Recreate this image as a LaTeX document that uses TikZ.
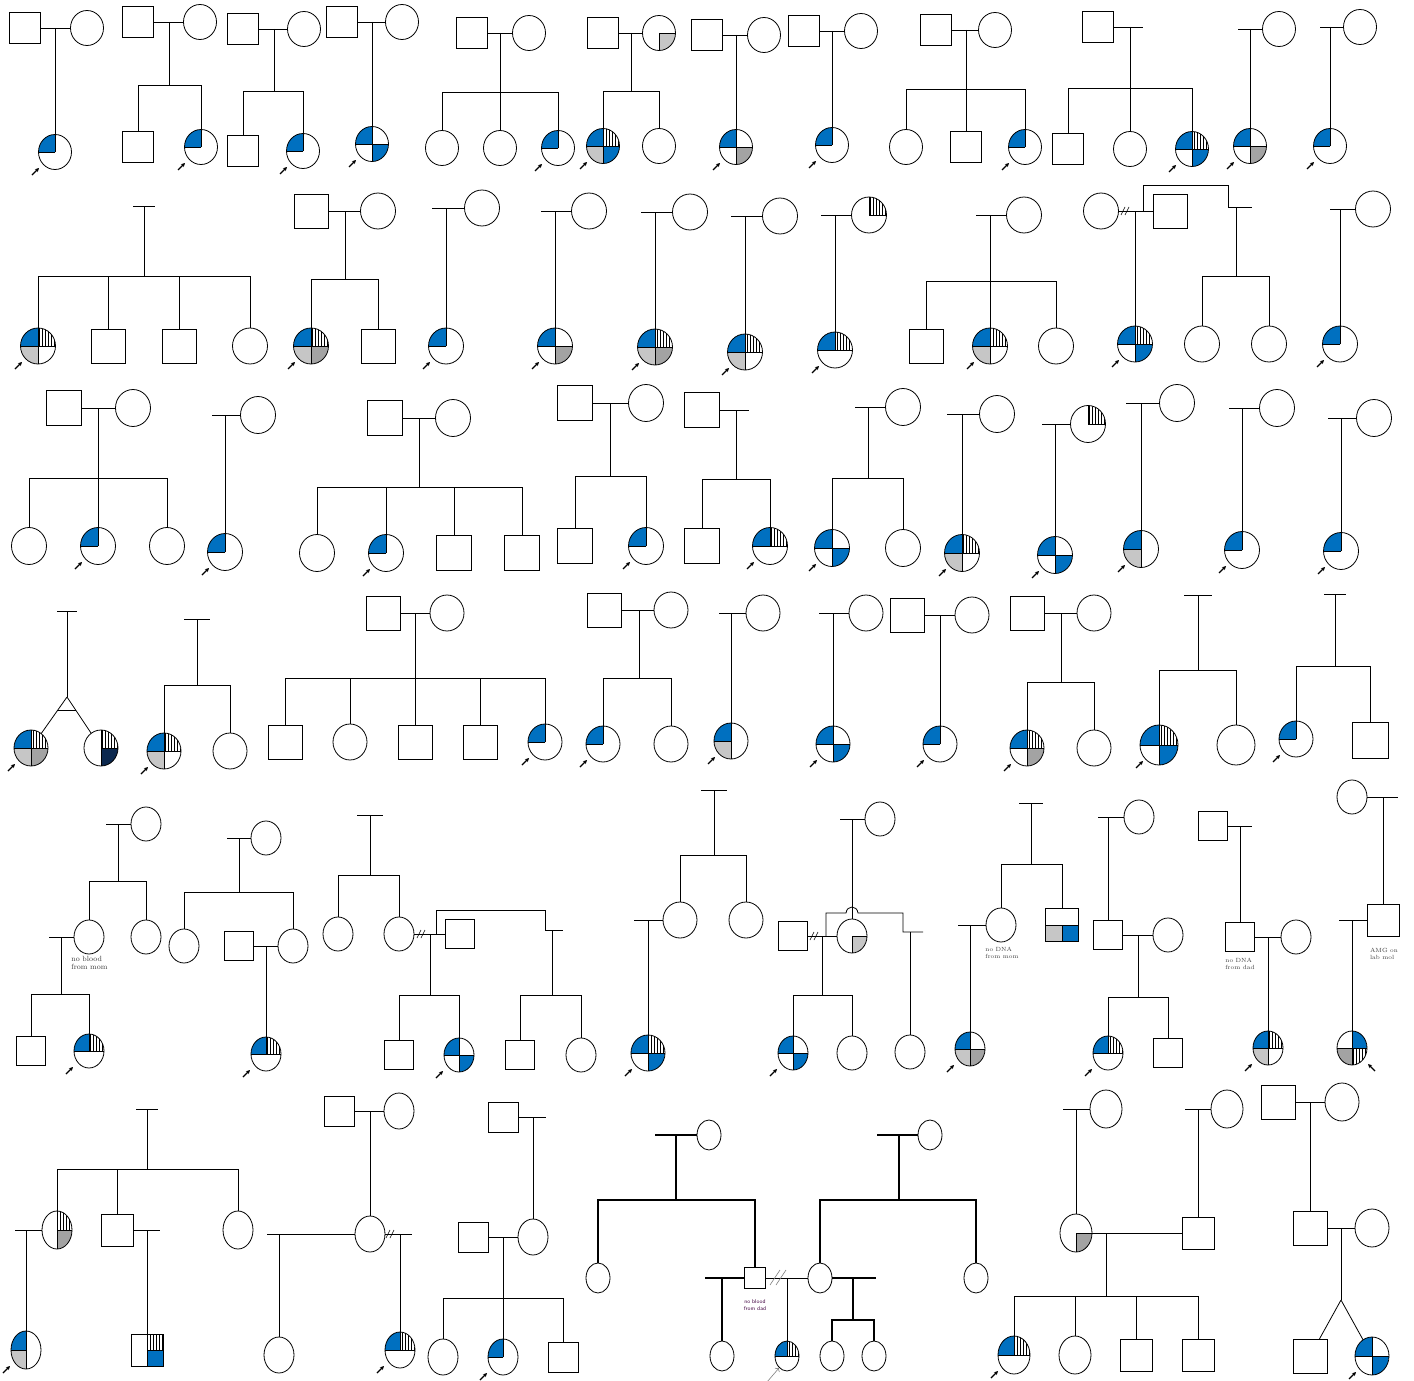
\documentclass[tikz,border=0pt]{standalone}
\usetikzlibrary{shapes.geometric,patterns,arrows.meta}
\definecolor{pblue}{RGB}{0,112,192}
\definecolor{pnavy}{RGB}{12,40,78}
\def\rx{16.5}\def\ry{17.5}\def\hs{15.5}
\tikzset{
 fci/.style={ellipse,draw,line width=0.8pt,inner sep=0pt,outer sep=0pt,minimum width=2*\rx,minimum height=2*\ry},
 msq/.style={rectangle,draw,line width=0.8pt,inner sep=0pt,outer sep=0pt,minimum width=2*\hs,minimum height=2*\hs},
 fB/.style={fill=pblue},
 fV/.style={pattern=vertical lines},
 fG/.style={fill=gray!45},
 fD/.style={fill=gray!72},
 fN/.style={fill=pnavy},
 parr/.style={-{Stealth[length=4pt,width=4pt]},line width=1.2pt},
 lbl/.style={font=\fontsize{6}{6.5}\selectfont,align=left,inner sep=0pt,text=black!75},
}
\newcommand\qset[1]{\ifcase#1\or\def\sx{-1}\def\sy{-1}\or\def\sx{1}\def\sy{-1}\or\def\sx{-1}\def\sy{1}\or\def\sx{1}\def\sy{1}\fi}
\newcommand\QE[4]{\qset{#3}\begin{scope}\clip (#1,#2) ellipse ({\rx} and {\ry});
 \edef\tmp{\noexpand\path[#4]}\tmp (#1,#2) rectangle ++({\sx*\rx},{\sy*\ry});
 \draw[line width=0.5pt] (#1,#2) -- ++({\sx*\rx},0) (#1,#2) -- ++(0,{\sy*\ry});\end{scope}}
\newcommand\QS[4]{\qset{#3}\edef\tmp{\noexpand\path[#4]}\tmp (#1,#2) rectangle ++({\sx*\hs},{\sy*\hs});
 \draw[line width=0.5pt] (#1,#2) -- ++({\sx*\hs},0) (#1,#2) -- ++(0,{\sy*\hs});}
\newcommand\Fe[4][]{\ifx\relax#1\relax\else\foreach \qn/\qt in {#1}{\QE{#3}{#4}{\qn}{\qt}}\fi\node[fci] (#2) at (#3,#4) {};}
\newcommand\Ma[4][]{\ifx\relax#1\relax\else\foreach \qn/\qt in {#1}{\QS{#3}{#4}{\qn}{\qt}}\fi\node[msq] (#2) at (#3,#4) {};}
\newcommand\Sib[3]{\coordinate (#1s) at (#1 |- 0,#2);\draw (#1) -- (#1s);\foreach \cn in {#3}{\draw (\cn) |- (#1s);}}
\newcommand\Pa[1]{\draw[parr] ([shift={(-23,23)}]#1.center) -- ([shift={(-16,16)}]#1.center);}
\newcommand\PaR[1]{\draw[parr] ([shift={(23,23)}]#1.center) -- ([shift={(16,16)}]#1.center);}
\newcommand\Tb[4]{\coordinate (#1) at (#2,#3);\draw ({#2-#4},#3) -- ({#2+#4},#3);}
\newcommand\Dv[2]{\draw[line width=0.6pt] ({#1-3},{#2+4}) -- ({#1+1},{#2-4}) ({#1+1},{#2+4}) -- ({#1+5},{#2-4});}
\begin{document}
\begin{tikzpicture}[x=1pt,y=-1pt,line width=0.8pt]
\useasboundingbox (0,0) rectangle (1414,1381);
\fill[white] (0,0) rectangle (1414,1381);
% ---------------- ROW 1
\def\rx{16.5}\def\ry{17.5}\def\hs{15.5}
\Ma{a1}{25}{28}\Fe{a2}{87}{28}\draw (a1)--(a2);
\coordinate (a0) at (55,28);\Fe[1/fB]{a3}{55}{152}\draw (a0)--(a3);\Pa{a3}
\Ma{b1}{138}{22}\Fe{b2}{200}{22}\draw (b1)--(b2);\coordinate (b0) at (169,22);
\Ma{b3}{138}{147}\Fe[1/fB]{b4}{201}{147}\Sib{b0}{85}{b3,b4}\Pa{b4}
\Ma{c1}{243}{29}\Fe{c2}{304}{29}\draw (c1)--(c2);\coordinate (c0) at (274,29);
\Ma{c3}{243}{151}\Fe[1/fB]{c4}{303}{151}\Sib{c0}{91}{c3,c4}\Pa{c4}
\Ma{d1}{342}{22}\Fe{d2}{402}{22}\draw (d1)--(d2);\coordinate (d0) at (372,22);
\Fe[1/fB,4/fB]{d3}{372}{144}\draw (d0)--(d3);\Pa{d3}
\Ma{e1}{472}{33}\Fe{e2}{529}{33}\draw (e1)--(e2);\coordinate (e0) at (500,33);
\Fe{e3}{442}{148}\Fe{e4}{500}{148}\Fe[1/fB]{e5}{558}{148}\Sib{e0}{92}{e3,e4,e5}\Pa{e5}
\Ma{f1}{603}{33}\Fe[4/fG]{f2}{659}{33}\draw (f1)--(f2);\coordinate (f0) at (631,33);
\Fe[1/fB,2/fV,3/fG,4/fB]{f3}{603}{146}\Fe{f4}{659}{146}\Sib{f0}{91}{f3,f4}\Pa{f3}
\Ma{g1}{707}{35}\Fe{g2}{764}{35}\draw (g1)--(g2);\coordinate (g0) at (736,35);
\Fe[1/fB,4/fD]{g3}{736}{147}\draw (g0)--(g3);\Pa{g3}
\Ma{h1}{804}{31}\Fe{h2}{861}{31}\draw (h1)--(h2);\coordinate (h0) at (832,31);
\Fe[1/fB]{h3}{832}{145}\draw (h0)--(h3);\Pa{h3}
\Ma{i1}{936}{30}\Fe{i2}{995}{30}\draw (i1)--(i2);\coordinate (i0) at (966,30);
\Fe{i3}{906}{147}\Ma{i4}{966}{147}\Fe[1/fB]{i5}{1025}{147}\Sib{i0}{89}{i3,i4,i5}\Pa{i5}
\Ma{k1}{1098}{27}\coordinate (k2) at (1143,27);\draw (k1)--(k2);\coordinate (k0) at (1130,27);
\Ma{k3}{1068}{149}\Fe{k4}{1130}{149}\Fe[1/fB,2/fV,4/fB]{k5}{1192}{149}\Sib{k0}{88}{k3,k4,k5}\Pa{k5}
\coordinate (l1) at (1238,29);\Fe{l2}{1279}{29}\draw (l1)--(l2);\coordinate (l0) at (1250,29);
\Fe[1/fB,4/fD]{l3}{1250}{146}\draw (l0)--(l3);\Pa{l3}
\coordinate (m1) at (1320,27);\Fe{m2}{1360}{27}\draw (m1)--(m2);\coordinate (m0) at (1330,27);
\Fe[1/fB]{m3}{1330}{146}\draw (m0)--(m3);\Pa{m3}
% ---------------- ROW 2
\def\rx{17.5}\def\ry{18}\def\hs{17}
\Tb{n0}{144}{206}{11}
\Fe[1/fB,2/fV,3/fG]{n1}{38}{346}\Ma{n2}{108}{346}\Ma{n3}{179}{346}\Fe{n4}{250}{346}\Sib{n0}{276}{n1,n2,n3,n4}\Pa{n1}
\Ma{o1}{311}{211}\Fe{o2}{378}{211}\draw (o1)--(o2);\coordinate (o0) at (345,211);
\Fe[1/fB,2/fV,3/fG,4/fD]{o3}{311}{346}\Ma{o4}{378}{346}\Sib{o0}{279}{o3,o4}\Pa{o3}
\coordinate (p1) at (432,208);\Fe{p2}{482}{208}\draw (p1)--(p2);\coordinate (p0) at (446,208);
\Fe[1/fB]{p3}{446}{346}\draw (p0)--(p3);\Pa{p3}
\coordinate (q1) at (541,211);\Fe{q2}{589}{211}\draw (q1)--(q2);\coordinate (q0) at (555,211);
\Fe[1/fB,4/fD]{q3}{555}{346}\draw (q0)--(q3);\Pa{q3}
\coordinate (r1) at (641,212);\Fe{r2}{690}{212}\draw (r1)--(r2);\coordinate (r0) at (655,212);
\Fe[1/fB,2/fV,3/fG,4/fD]{r3}{655}{347}\draw (r0)--(r3);\Pa{r3}
\coordinate (s1) at (731,216);\Fe{s2}{780}{216}\draw (s1)--(s2);\coordinate (s0) at (745,216);
\Fe[1/fB,2/fV,3/fG]{s3}{745}{352}\draw (s0)--(s3);\Pa{s3}
\coordinate (t1) at (821,215);\Fe[2/fV]{t2}{869}{215}\draw (t1)--(t2);\coordinate (t0) at (835,215);
\Fe[1/fB,2/fV]{t3}{835}{350}\draw (t0)--(t3);\Pa{t3}
\coordinate (u1) at (976,215);\Fe{u2}{1024}{215}\draw (u1)--(u2);\coordinate (u0) at (990,215);
\Ma{u3}{926}{346}\Fe[1/fB,2/fV,3/fG]{u4}{990}{346}\Fe{u5}{1056}{346}\Sib{u0}{281}{u3,u4,u5}\Pa{u4}
\Fe{v1}{1101}{211}\Ma{v2}{1170}{211}\draw (v1)--(v2);\Dv{1124}{211}
\coordinate (v0) at (1135,211);\Fe[1/fB,2/fV,4/fB]{v4}{1135}{344}\draw (v0)--(v4);\Pa{v4}
\coordinate (vb) at (1143,211);\coordinate (vc) at (1228,207);\draw (vb) |- (1228,185) -- (vc) -- (1252,207);
\coordinate (vd) at (1236,207);\Fe{v5}{1202}{344}\Fe{v6}{1269}{344}\Sib{vd}{276}{v5,v6}
\coordinate (w1) at (1330,209);\Fe{w2}{1373}{209}\draw (w1)--(w2);\coordinate (w0) at (1340,209);
\Fe[1/fB]{w3}{1340}{344}\draw (w0)--(w3);\Pa{w3}
% ---------------- ROW 3
\def\rx{17.5}\def\ry{18.5}\def\hs{17.5}
\Ma{x1}{64}{408}\Fe{x2}{133}{408}\draw (x1)--(x2);\coordinate (x0) at (98,408);
\Fe{x3}{29}{546}\Fe[1/fB]{x4}{98}{546}\Fe{x5}{167}{546}\Sib{x0}{478}{x3,x4,x5}\Pa{x4}
\coordinate (y1) at (212,415);\Fe{y2}{258}{415}\draw (y1)--(y2);\coordinate (y0) at (225,415);
\Fe[1/fB]{y3}{225}{552}\draw (y0)--(y3);\Pa{y3}
\Ma{z1}{385}{418}\Fe{z2}{453}{418}\draw (z1)--(z2);\coordinate (z0) at (419,418);
\Fe{z3}{317}{553}\Fe[1/fB]{z4}{386}{553}\Ma{z5}{454}{553}\Ma{z6}{522}{553}\Sib{z0}{487}{z3,z4,z5,z6}\Pa{z4}
\Ma{A1}{575}{403}\Fe{A2}{646}{403}\draw (A1)--(A2);\coordinate (A0) at (610,403);
\Ma{A3}{575}{546}\Fe[1/fB]{A4}{646}{546}\Sib{A0}{476}{A3,A4}\Pa{A4}
\Ma{B1}{702}{410}\coordinate (B2) at (749,410);\draw (B1)--(B2);\coordinate (B0) at (736,410);
\Ma{B3}{702}{546}\Fe[1/fB,2/fV]{B4}{770}{546}\Sib{B0}{479}{B3,B4}\Pa{B4}
\coordinate (C1) at (855,407);\Fe{C2}{903}{407}\draw (C1)--(C2);\coordinate (C0) at (868,407);
\Fe[1/fB,4/fB]{C3}{832}{548}\Fe{C4}{903}{548}\Sib{C0}{478}{C3,C4}\Pa{C3}
\coordinate (D1) at (947,414);\Fe{D2}{997}{414}\draw (D1)--(D2);\coordinate (D0) at (962,414);
\Fe[1/fB,2/fV,3/fG]{D3}{962}{553}\draw (D0)--(D3);\Pa{D3}
\coordinate (E1) at (1042,424);\Fe[2/fV]{E2}{1088}{424}\draw (E1)--(E2);\coordinate (E0) at (1055,424);
\Fe[1/fB,4/fB]{E3}{1055}{555}\draw (E0)--(E3);\Pa{E3}
\coordinate (G1) at (1126,403);\Fe{G2}{1177}{403}\draw (G1)--(G2);\coordinate (G0) at (1141,403);
\Fe[1/fB,3/fG]{G3}{1141}{549}\draw (G0)--(G3);\Pa{G3}
\coordinate (H1) at (1229,408);\Fe{H2}{1277}{408}\draw (H1)--(H2);\coordinate (H0) at (1242,408);
\Fe[1/fB]{H3}{1242}{550}\draw (H0)--(H3);\Pa{H3}
\coordinate (I1) at (1328,418);\Fe{I2}{1374}{418}\draw (I1)--(I2);\coordinate (I0) at (1341,418);
\Fe[1/fB]{I3}{1341}{551}\draw (I0)--(I3);\Pa{I3}
% ---------------- ROW 4
\def\rx{17}\def\ry{18}\def\hs{17}
\Tb{J0}{67}{611}{10}\coordinate (J1) at (67,697);\draw (J0)--(J1);
\Fe[1/fB,2/fV,3/fG,4/fD]{J2}{31}{748}\Fe[2/fV,4/fN]{J3}{101}{748}\draw (J1)--(J2) (J1)--(J3);
\draw (58,710)--(76,710);\Pa{J2}
\Tb{K0}{197}{619}{13}\Fe[1/fB,2/fV,3/fG]{K3}{164}{751}\Fe{K4}{230}{751}\Sib{K0}{685}{K3,K4}\Pa{K3}
\Ma{L1}{383}{613}\Fe{L2}{447}{613}\draw (L1)--(L2);\coordinate (L0) at (415,613);
\Ma{L3}{285}{742}\Fe{L4}{350}{742}\Ma{L5}{415}{742}\Ma{L6}{480}{742}\Fe[1/fB]{L7}{545}{742}\Sib{L0}{678}{L3,L4,L5,L6,L7}\Pa{L7}
\Ma{N1}{604}{610}\Fe{N2}{671}{610}\draw (N1)--(N2);\coordinate (N0) at (639,610);
\Fe[1/fB]{N3}{603}{744}\Fe{N4}{671}{744}\Sib{N0}{678}{N3,N4}\Pa{N3}
\coordinate (O1) at (719,613);\Fe{O2}{763}{613}\draw (O1)--(O2);\coordinate (O0) at (731,613);
\Fe[1/fB,3/fG]{O3}{731}{741}\draw (O0)--(O3);\Pa{O3}
\coordinate (P1) at (819,613);\Fe{P2}{866}{613}\draw (P1)--(P2);\coordinate (P0) at (833,613);
\Fe[1/fB,4/fB]{P3}{833}{744}\draw (P0)--(P3);\Pa{P3}
\Ma{R1}{907}{615}\Fe{R2}{972}{615}\draw (R1)--(R2);\coordinate (R0) at (940,615);
\Fe[1/fB]{R3}{940}{744}\draw (R0)--(R3);\Pa{R3}
\Ma{S1}{1027}{613}\Fe{S2}{1094}{613}\draw (S1)--(S2);\coordinate (S0) at (1061,613);
\Fe[1/fB,2/fV,4/fD]{S3}{1027}{748}\Fe{S4}{1094}{748}\Sib{S0}{682}{S3,S4}\Pa{S3}
\begin{scope}\def\rx{19}\def\ry{20}
\Tb{T0}{1198}{595}{14}\Fe[1/fB,2/fV,4/fB]{T3}{1159}{745}\Fe{T4}{1236}{745}\Sib{T0}{670}{T3,T4}\Pa{T3}
\end{scope}
\begin{scope}\def\hs{18}
\Tb{U0}{1335}{594}{11}\Fe[1/fB]{U3}{1296}{739}\Ma{U4}{1370}{740}\Sib{U0}{666}{U3,U4}\Pa{U3}
\end{scope}
% ---------------- ROW 5
\def\rx{15}\def\ry{17}\def\hs{14.5}
\coordinate (V1) at (106,824);\Fe{V2}{146}{824}\draw (V1)--(V2);\coordinate (V0) at (118,824);
\Fe{V3}{89}{937}\Fe{V4}{146}{937}\Sib{V0}{881}{V3,V4}
\coordinate (V5) at (49,937);\draw (V5)--(V3);\coordinate (V6) at (61,937);
\Ma{V7}{31}{1051}\Fe[1/fB,2/fV]{V8}{89}{1051}\Sib{V6}{994}{V7,V8}\Pa{V8}
\node[lbl,font=\fontsize{7.5}{8.5}\selectfont,anchor=west] (Vt) at (71,963) {no blood\\from mom};
\coordinate (W1) at (227,838);\Fe{W2}{266}{838}\draw (W1)--(W2);\coordinate (W0) at (239,838);
\Fe{W3}{184}{946}\Fe{W5}{293}{946}\Sib{W0}{892}{W3,W5}\Ma{W4}{239}{946}\draw (W4)--(W5);
\coordinate (W6) at (266,946);\Fe[1/fB,2/fV]{W7}{266}{1054}\draw (W6)--(W7);\Pa{W7}
\Tb{X0}{370}{815}{13}\Fe{X3}{338}{934}\Fe{X4}{399}{934}\Sib{X0}{875}{X3,X4}
\Ma{X5}{460}{934}\draw (X4)--(X5);\Dv{420}{934}
\coordinate (Xa) at (436,934);\coordinate (Xb) at (545,930);\draw (Xa) |- (545,910) -- (Xb) -- (563,930);
\coordinate (Xc) at (430,934);\Ma{X6}{399}{1055}\Fe[1/fB,4/fB]{X7}{459}{1055}\Sib{Xc}{995}{X6,X7}\Pa{X7}
\coordinate (Xd) at (552,930);\Ma{X8}{520}{1055}\Fe{X9}{581}{1055}\Sib{Xd}{995}{X8,X9}
\begin{scope}\def\rx{17}\def\ry{18}
\Tb{Y0}{714}{790}{13}\Fe{Y3}{680}{920}\Fe{Y4}{746}{920}\Sib{Y0}{855}{Y3,Y4}
\coordinate (Y1) at (634,920);\draw (Y1)--(Y3);\coordinate (Y2) at (648,920);
\Fe[1/fB,2/fV,4/fB]{Y5}{648}{1053}\draw (Y2)--(Y5);\Pa{Y5}
\end{scope}
\coordinate (Z1) at (840,819);\Fe{Z2}{880}{819}\draw (Z1)--(Z2);\coordinate (Z0) at (852,819);
\Fe[4/fG]{Z3}{852}{936}\draw (Z0)--(Z3);
\Ma{Z4}{793}{936}\draw (Z4)--(Z3);\Dv{813}{936}
\coordinate (Za) at (826,936);\coordinate (Zb) at (903,932);
\draw (Za) |- (846,913) .. controls (847,905) and (857,905) .. (858,913) -- (903,913) -- (Zb) -- (923,932);
\coordinate (Zc) at (822,936);\Fe[1/fB,4/fB]{Z5}{793}{1053}\Fe{Z6}{852}{1053}\Sib{Zc}{995}{Z5,Z6}\Pa{Z5}
\coordinate (Zd) at (910,932);\Fe{Z7}{910}{1052}\draw (Zd)--(Z7);
\begin{scope}\def\hs{16.5}
\Tb{AA0}{1031}{803}{12}\Fe{AA3}{1001}{925}\Ma[3/fG,4/fB]{AA4}{1062}{925}\Sib{AA0}{864}{AA3,AA4}
\end{scope}
\coordinate (AA1) at (958,925);\draw (AA1)--(AA3);\coordinate (AA2) at (970,925);
\Fe[1/fB,3/fG,4/fD]{AA5}{970}{1049}\draw (AA2)--(AA5);\Pa{AA5}
\node[lbl] (AAt) at (1002,953) {no DNA\\from mom};
\coordinate (AB1) at (1098,817);\Fe{AB2}{1139}{817}\draw (AB1)--(AB2);\coordinate (AB0) at (1108,817);
\Ma{AB3}{1108}{935}\Fe{AB4}{1168}{935}\draw (AB0)--(AB3);\draw (AB3)--(AB4);\coordinate (AB5) at (1138,935);
\Fe[1/fB,2/fV]{AB6}{1108}{1053}\Ma{AB7}{1168}{1053}\Sib{AB5}{997}{AB6,AB7}\Pa{AB6}
\Ma{AC1}{1213}{826}\coordinate (AC2) at (1252,826);\draw (AC1)--(AC2);\coordinate (AC0) at (1240,826);
\Ma{AC3}{1240}{937}\Fe{AC4}{1296}{937}\draw (AC0)--(AC3);\draw (AC3)--(AC4);
\node[lbl] (ACt) at (1240,964) {no DNA\\from dad};
\coordinate (AC5) at (1268,937);\Fe[1/fB,2/fV,3/fG]{AC6}{1268}{1048}\draw (AC5)--(AC6);\Pa{AC6}
\Fe{AD1}{1352}{797}\coordinate (AD2) at (1398,797);\draw (AD1)--(AD2);\coordinate (AD0) at (1383,797);
\begin{scope}\def\hs{16}\Ma{AD3}{1383}{920}\end{scope}
\draw (AD0)--(AD3);\coordinate (AD4) at (1339,920);\draw (AD4)--(AD3);
\coordinate (AD5) at (1352,920);\Fe[2/fB,3/fD,4/fV]{AD6}{1352}{1048}\draw (AD5)--(AD6);\PaR{AD6}
\node[lbl] (ADt) at (1384,954) {AMG on\\lab mol};
% ---------------- ROW 6
\begin{scope}\def\rx{15}\def\ry{19}\def\hs{16}
\Tb{AE0}{147}{1109}{11}\Fe[2/fV,4/fD]{AE3}{57}{1230}\Ma{AE4}{117}{1230}\Fe{AE5}{238}{1230}\Sib{AE0}{1169}{AE3,AE4,AE5}
\coordinate (AE1) at (15,1230);\draw (AE1)--(AE3);\coordinate (AE2) at (26,1230);
\Fe[1/fB,3/fG]{AE6}{26}{1350}\draw (AE2)--(AE6);\Pa{AE6}
\coordinate (AE7) at (160,1230);\draw (AE4)--(AE7);\coordinate (AE8) at (147,1230);
\Ma[2/fV,4/fB]{AE9}{147}{1350}\draw (AE8)--(AE9);
\end{scope}
\begin{scope}\def\rx{15}\def\ry{18}\def\hs{15}
\Ma{AF1}{339}{1111}\Fe{AF2}{399}{1111}\draw (AF1)--(AF2);\coordinate (AF0) at (370,1111);
\Fe{AF3}{370}{1234}\draw (AF0)--(AF3);
\coordinate (AF4) at (267,1234);\draw (AF4)--(AF3);\coordinate (AF5) at (279,1234);
\Fe{AF6}{279}{1355}\draw (AF5)--(AF6);
\coordinate (AF7) at (412,1234);\draw (AF3)--(AF7);\Dv{389}{1234}\coordinate (AF8) at (400,1234);
\Fe[1/fB,2/fV]{AF9}{400}{1350}\draw (AF8)--(AF9);\Pa{AF9}
\end{scope}
\begin{scope}\def\rx{15}\def\ry{18}\def\hs{15}
\Ma{AG1}{503}{1117}\coordinate (AG2) at (546,1117);\draw (AG1)--(AG2);\coordinate (AG0) at (533,1117);
\Fe{AG3}{533}{1237}\draw (AG0)--(AG3);\Ma{AG4}{473}{1237}\draw (AG4)--(AG3);\coordinate (AG5) at (503,1237);
\Fe{AG6}{443}{1357}\Fe[1/fB]{AG7}{503}{1357}\Ma{AG8}{563}{1357}\Sib{AG5}{1298}{AG6,AG7,AG8}\Pa{AG7}
\end{scope}
\begin{scope}[line width=1.3pt]\def\rx{12}\def\ry{15}\def\hs{10.5}
\coordinate (AH1) at (655,1135);\Fe{AH2}{709}{1135}\draw (AH1)--(AH2);\coordinate (AH0) at (676,1135);
\Fe{AH3}{598}{1278}\Ma{AH4}{755}{1278}\Sib{AH0}{1200}{AH3,AH4}
\coordinate (AH5) at (705,1278);\draw (AH5)--(AH4);\coordinate (AH6) at (722,1278);
\Fe{AH7}{722}{1356}\draw (AH6)--(AH7);
\Fe{AH8}{820}{1278}\draw[line width=0.8pt] (AH4)--(AH8);
\draw[line width=0.6pt,gray] (770,1285)--(780,1270) (776,1285)--(786,1270);
\coordinate (AH9) at (787,1278);\Fe[1/fB,2/fV]{AH10}{787}{1356}\draw[line width=0.8pt] (AH9)--(AH10);
\coordinate (AK1) at (877,1135);\Fe{AK2}{930}{1135}\draw (AK1)--(AK2);\coordinate (AK0) at (899,1135);
\Fe{AK3}{976}{1278}\Sib{AK0}{1200}{AH8,AK3}
\coordinate (AK4) at (876,1278);\draw (AH8)--(AK4);\coordinate (AK5) at (853,1278);
\Fe{AK6}{832}{1356}\Fe{AK7}{874}{1356}\Sib{AK5}{1320}{AK6,AK7}
\node[lbl,font=\sffamily\fontsize{5.5}{7}\selectfont,text=violet!50!black,align=center] (AHt) at (755,1305) {no blood\\from dad};
\draw[->,line width=0.6pt,gray] ([shift={(-20,26)}]AH10.center) -- ([shift={(-8,12)}]AH10.center);
\end{scope}
\begin{scope}\def\rx{16}\def\ry{19}\def\hs{16}
\coordinate (AI1) at (1063,1109);\Fe{AI2}{1106}{1109}\draw (AI1)--(AI2);\coordinate (AI0) at (1076,1109);
\Fe[4/fD]{AI3}{1076}{1233}\draw (AI0)--(AI3);
\coordinate (AI4) at (1185,1109);\Fe{AI5}{1227}{1109}\draw (AI4)--(AI5);\coordinate (AI6) at (1198,1109);
\Ma{AI7}{1198}{1233}\draw (AI6)--(AI7);\draw (AI3)--(AI7);\coordinate (AI8) at (1106,1233);
\Fe[1/fB,2/fV]{AI9}{1014}{1355}\Fe{AI10}{1075}{1355}\Ma{AI11}{1136}{1355}\Ma{AI12}{1198}{1355}\Sib{AI8}{1296}{AI9,AI10,AI11,AI12}\Pa{AI9}
\end{scope}
\begin{scope}\def\rx{17}\def\ry{19}\def\hs{17}
\Ma{AJ1}{1278}{1102}\Fe{AJ2}{1342}{1102}\draw (AJ1)--(AJ2);\coordinate (AJ0) at (1310,1102);
\Ma{AJ3}{1310}{1228}\Fe{AJ4}{1372}{1228}\draw (AJ0)--(AJ3);\draw (AJ3)--(AJ4);\coordinate (AJ5) at (1341,1228);
\coordinate (AJ6) at (1341,1300);\draw (AJ5)--(AJ6);
\Ma{AJ7}{1310}{1356}\Fe[1/fB,4/fB]{AJ8}{1372}{1356}\draw (AJ6)--(AJ7) (AJ6)--(AJ8);\Pa{AJ8}
\end{scope}
\end{tikzpicture}
\end{document}
